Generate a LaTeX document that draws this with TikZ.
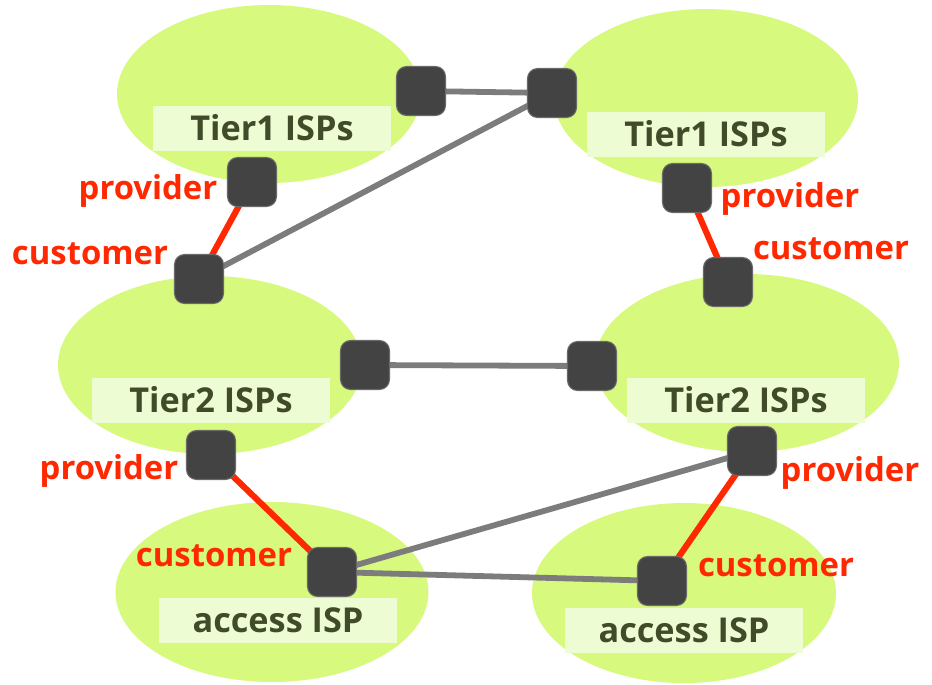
\documentclass[tikz,border=0pt]{standalone}
\usepackage{fontspec}
\setmainfont{Open Sans}
\usepackage{tikz}
\usetikzlibrary{shapes.geometric}
\definecolor{ispgreen}{HTML}{D6F97E}
\definecolor{tagfill}{HTML}{EDFCD3}
\definecolor{tagtext}{HTML}{414B29}
\definecolor{rtrgray}{HTML}{434343}
\definecolor{rtrrim}{HTML}{6A6A6A}
\definecolor{peergray}{HTML}{7C7C7C}
\definecolor{rolered}{HTML}{FF2800}
\pgfdeclarelayer{bg}
\pgfdeclarelayer{links}
\pgfsetlayers{bg,links,main}
\tikzset{isp/.style={ellipse,fill=ispgreen,minimum width=6.08cm,minimum height=3.56cm},
  tag/.style={fill=tagfill,minimum width=4.76cm,minimum height=0.9cm,text=tagtext,font=\bfseries\fontsize{19.5}{20}\selectfont},
  rtr/.style={rectangle,rounded corners=0.2cm,fill=rtrgray,draw=rtrrim,line width=0.6pt,minimum size=0.98cm},
  role/.style={text=rolered,font=\bfseries\fontsize{18.7}{20}\selectfont,text height=13pt,text depth=4.5pt,inner sep=0pt},
  peer/.style={draw=peergray,line width=3.3pt},
  up/.style={draw=rolered,line width=3.5pt}}

\begin{document}
\begin{tikzpicture}[x=0.02cm,y=-0.02cm]
    \useasboundingbox (0,0) rectangle (932,684);

    \begin{pgfonlayer}{bg}
    \node[isp] (t1l) at (269,94) {};
    \node[isp] (t1r) at (706,98) {};
    \node[isp] (t2l) at (210,365) {};
    \node[isp] (t2r) at (747,363) {};
    \node[isp,minimum width=6.26cm,minimum height=3.6cm] (accl) at (272,592) {};
    \node[isp,minimum height=3.6cm] (accr) at (684,593) {};
    \node[tag] (nt1l) at (272,128) {Tier1 ISPs};
    \node[tag] (nt1r) at (706,134) {Tier1 ISPs};
    \node[tag] (nt2l) at (211,400) {Tier2 ISPs};
    \node[tag] (nt2r) at (746,400) {Tier2 ISPs};
    \node[tag] (naccl) at (278,620) {access ISP};
    \node[tag] (naccr) at (684,630) {access ISP};
    \end{pgfonlayer}

    \node[rtr] (s1) at (421,91) {};
    \node[rtr] (s2) at (552,93) {};
    \node[rtr] (p1) at (252,182) {};
    \node[rtr] (c1) at (199,279) {};
    \node[rtr] (p2) at (687,188) {};
    \node[rtr] (c2) at (728,282) {};
    \node[rtr] (s3) at (365,365) {};
    \node[rtr] (s4) at (592,366) {};
    \node[rtr] (p3) at (211,455) {};
    \node[rtr] (c3) at (332,572) {};
    \node[rtr] (p4) at (752,451) {};
    \node[rtr] (c4) at (662,581) {};

    \node[role] (lp1) at (148,192) {provider};
    \node[role] (lc1) at (90,257) {customer};
    \node[role] (lp2) at (790,200) {provider};
    \node[role] (lc2) at (831,252) {customer};
    \node[role] (lp3) at (109,472) {provider};
    \node[role] (lc3) at (214,559) {customer};
    \node[role] (lp4) at (850,474) {provider};
    \node[role] (lc4) at (776,569) {customer};

    \begin{pgfonlayer}{links}
    \draw [peer] (s1.center) -- (s2.center);
    \draw [peer] (s2.center) -- (c1.center);
    \draw [peer] (s3.center) -- (s4.center);
    \draw [peer] (p4.center) -- (c3.center);
    \draw [peer] (c3.center) -- (c4.center);
    \draw [up] (p1.center) -- (c1.center);
    \draw [up] (p2.center) -- (c2.center);
    \draw [up] (p3.center) -- (c3.center);
    \draw [up] (p4.center) -- (c4.center);
    \end{pgfonlayer}
\end{tikzpicture}
\end{document}
